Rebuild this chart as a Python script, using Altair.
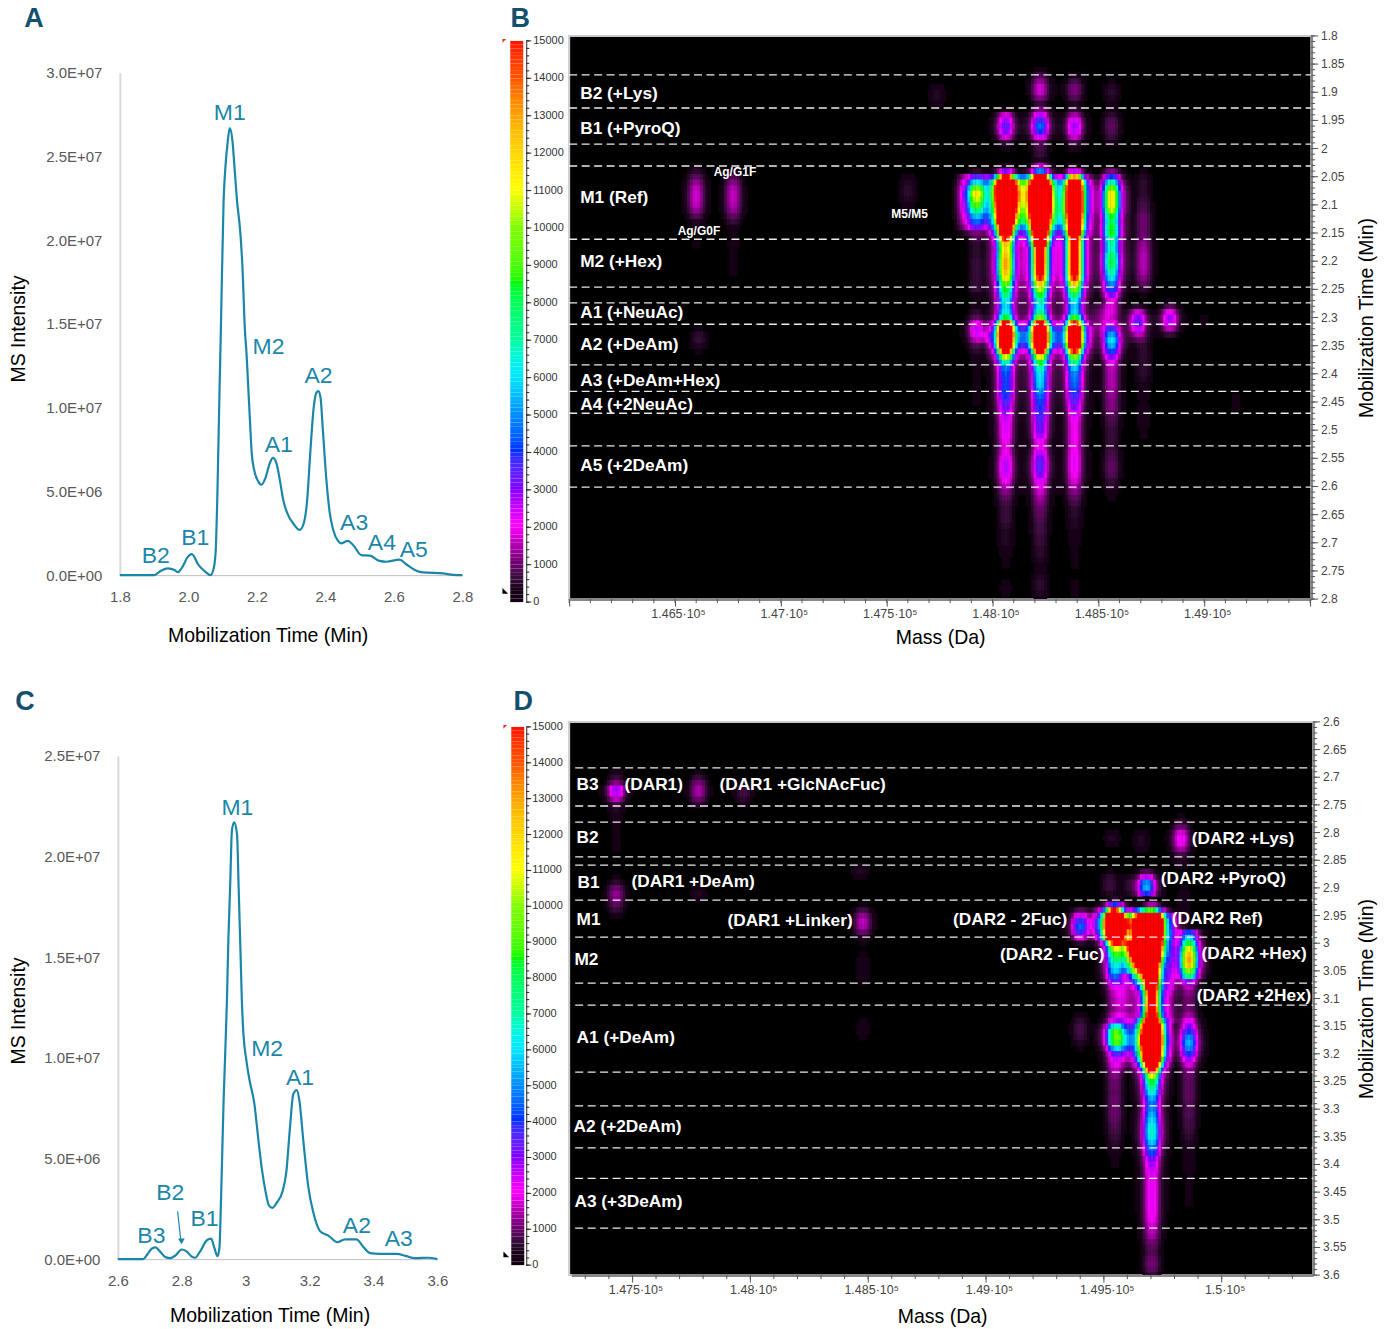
import altair as alt
import pandas as pd

TEAL = "#1a87a8"
LETTER = "#14506e"
GREY = "#595959"
FONT = "Liberation Sans"
NOFRAME = alt.ViewConfig(stroke="transparent")

# ---- Electropherograms: (time min, intensity 1e6)
a_t = [1.80,1.90,1.92,1.94,1.96,1.97,1.98,2.00,2.01,2.03,2.05,2.065,2.075,2.08,2.085,2.09,2.095,2.103,2.108,2.115,2.121,2.129,2.135,2.142,2.152,2.158,2.165,2.17,2.175,2.18,2.185,2.192,2.204,2.214,2.225,2.238,2.247,2.257,2.267,2.277,2.291,2.306,2.325,2.337,2.347,2.356,2.366,2.374,2.38,2.386,2.393,2.403,2.413,2.423,2.437,2.447,2.466,2.481,2.505,2.53,2.558,2.578,2.617,2.636,2.666,2.685,2.744,2.773,2.80]
a_i = [0,0,.26,.4,.3,.18,.4,1.13,1.25,.6,.2,0,.5,1.5,5.0,10.0,14.7,22.4,24.3,25.9,26.7,25.9,24.3,22.4,20.4,18.4,14.7,13.2,11.2,9.2,7.3,6.3,5.6,5.4,5.8,6.7,7.0,6.7,5.7,4.5,3.6,3.1,2.7,3.1,4.5,7.3,10.0,10.9,11.0,10.6,8.6,5.7,3.7,2.7,2.05,1.9,2.05,1.8,1.2,1.17,.85,.8,.93,.65,.26,.16,.1,.02,0]
c_t = [2.60,2.679,2.692,2.707,2.718,2.731,2.749,2.764,2.78,2.80,2.814,2.832,2.842,2.858,2.879,2.892,2.902,2.912,2.918,2.923,2.931,2.941,2.946,2.952,2.957,2.964,2.973,2.978,2.984,2.988,2.993,3.002,3.012,3.027,3.04,3.051,3.063,3.073,3.084,3.097,3.116,3.127,3.139,3.149,3.16,3.168,3.181,3.196,3.212,3.233,3.259,3.287,3.311,3.347,3.368,3.389,3.42,3.472,3.503,3.529,3.571,3.60]
c_i = [0,0,.23,.53,.58,.4,.1,.05,.18,.48,.4,.12,.07,.4,.94,1.02,.56,.15,.56,3.0,7.9,12.6,15.9,18.8,21.3,21.7,21.1,18.5,15.2,12.9,11.2,9.9,8.9,7.75,5.9,4.45,3.3,2.66,2.55,2.8,3.4,4.3,6.6,8.2,8.4,7.9,5.8,3.6,2.3,1.39,1.17,.84,.98,.98,.61,.3,.26,.26,.15,.05,.07,0]

a_lab = ["M1","M2","A2","A1","A3","A4","A5","B2","B1"]
a_lab_t = [2.121,2.234,2.38,2.264,2.484,2.565,2.658,1.905,2.02]
a_lab_i = [27.6,13.6,11.9,7.76,3.1,1.9,1.5,1.13,2.2]
c_lab = ["M1","M2","A1","A2","A3","B1","B2","B3"]
c_lab_t = [2.974,3.067,3.17,3.348,3.479,2.871,2.764,2.705]
c_lab_i = [22.4,10.45,9.0,1.66,.98,1.97,3.3,1.17]

# ---- Heat map ridges: (mass Da, first time row, intensity/100 along 0.01-min rows)
profile = [1,.93,.72,.42,.22,.12,.07,.04,.015]   # relative intensity across a ridge, per cell

ridges_b = [
 (148222,1.86,[3,8,13,17,17,12,6,12,26,38,46,40,24,9,7,6,4,16,50,180,300,320,320,320,320,320,320,300,280,260,220,200,175,175,175,170,165,150,125,105,85,72,65,72,100,180,260,300,300,260,180,115,85,70,62,60,58,52,46,42,40,38,36,33,32,28,22,22,26,32,35,34,30,24,20,17,14,12,10,9,8,7,7,6,6,5,5,4,3,3,4,5,5,4,3]),
 (148197,2.05,[30,70,95,100,100,95,85,75,60,45,30,15,5]),
 (148247,2.05,[30,70,95,100,100,95,85,75,60,45,30,15,5]),
 (148061,1.93,[3,18,28,34,30,18,6,2,0,0,4,30,120,250,300,300,300,300,300,280,260,230,190,150,125,120,125,130,130,125,115,95,85,75,65,60,65,85,170,250,300,280,250,170,110,70,48,44,42,42,42,40,36,32,28,25,23,23,22,20,19,20,24,26,26,24,20,16,12,9,7,6,6,6,5,4,4,4,3,3,2,2,1,1,2,3,2,1]),
 (148036,2.05,[30,70,90,90,85,75,65,55,42,28,12,3]),
 (148086,2.05,[30,70,90,90,85,75,65,55,42,28,12,3]),
 (148387,1.87,[3,7,11,11,8,4,6,14,24,28,26,17,7,3,1,0,4,25,130,230,260,260,260,260,260,250,240,225,200,175,165,165,165,165,165,165,150,125,100,80,65,58,60,90,150,230,250,250,220,150,100,75,58,50,48,46,42,38,34,30,25,22,20,20,20,20,20,21,22,22,22,20,18,15,12,9,7,5,5,4,4,3,3,3,2,2,2,2,1,1,2,2,2,1]),
 (148362,2.06,[15,25,30,30,30,30,25,20,15,8]),
 (148412,2.06,[15,25,30,30,30,30,25,20,15,8]),
 (148562,1.88,[2,4,5,4,3,3,5,8,9,8,6,3,1,0,0,0,12,40,70,95,115,115,115,105,85,80,85,85,75,70,70,78,82,78,70,62,50,42,30,20,17,17,15,20,36,52,62,55,42,30,20,16,15,15,15,14,13,12,12,10,8,7,6,6,6,6,7,8,9,9,8,6,5,3,2,1,1]),
 (147925,2.03,[1,5,30,55,90,110,100,85,70,50,40,30,10,8,5,5,5,6,6,6,6,6,6,3,2,3,5,9,20,25,22,15,8,5,3,3,2,2,2,2,2,2,2,1,1,1,1,1]),
 (147880,2.05,[10,14,16,16,16,16,16,14,12,8,3]),
 (147981,2.05,[12,16,16,16,16,16,16,14,12,6,2]),
 (148142,2.05,[20,35,42,50,50,42,38,32,28,8]),
 (148142,2.32,[8,14,14,8]),
 (148302,2.06,[10,12,14,18,22,24,22,20,8]),
 (148302,2.32,[8,14,14,8]),
 (147981,2.33,[6,6]),
 (148712,2.04,[2,4,5,5,5,6,7,8,10,10,10,10,11,13,14,15,15,15,14,12,9,5,2]),
 (148712,2.33,[3,4,4,5,5,5,5,5,4,3,3,3,2,3,3,3,3,2,2,1]),
 (148684,2.27,[1,5,18,30,34,26,14,6,2]),
 (148840,2.27,[2,8,20,28,26,16,6]),
 (148509,2.28,[5,8,10,10,8,4]),
 (147736,1.88,[1,3,4,4,3,1]),
 (147604,2.04,[1,3,4,5,5,4,3,2]),
 (146599,2.03,[2,5,9,13,16,17,17,16,13,8,4,2,1,1,2]),
 (146769,2.04,[3,8,12,15,16,16,15,13,9,6,3,2,2,3,2,2]),
 (146613,2.32,[2,5,6,4,2]),
 (146778,2.20,[2,2,2]),
 (149151,2.43,[1,2,2,2,1]),
 (148995,2.29,[1,2,2,1]),
]

ridges_d = [
 (149699,2.93,[15,60,250,300,300,300,300,300,300,300,290,270,250,230,210,190,175,170,170,180,200,240,280,300,320,320,300,280,260,220,170,110,85,75,65,55,48,50,55,60,65,68,65,58,48,42,32,28,25,23,22,22,22,22,22,22,21,20,18,16,14,11,9,8,10,11,9,6]),
 (149674,2.94,[30,80,130,130,130,130,130,130,120,110,90,70,50,30,15,5,0,0,0,0,30,60,70,80,80,70,60,40,15]),
 (149725,2.94,[20,60,100,100,100,100,90,70,45,20,6,0,0,0,0,0,0,0,0,0,30,60,70,80,80,70,60,40,15]),
 (149648,2.94,[20,80,130,150,150,150,140,130,110,85,60,40,25,12,5]),
 (149623,3.00,[70,70,60,50,40,30,18,8]),
 (149606,3.00,[50,45,40,30,20,15]),
 (149593,3.07,[10,12,14,14,14,12,14,18,24,32,40,40,30,18,10,6,3]),
 (149551,2.92,[5,40,140,220,300,300,300,260,130,100,80,70,60,55,45,30,18,14,12,12,10,14,22,60,85,85,80,50,30,22,18,15,12,10,10,9,10,10,10,10,9,8,7,6,5,4,3,2,2,1]),
 (149521,2.94,[20,60,80,80,60,40,10]),
 (149581,2.95,[60,100,100,70,60,20]),
 (149466,2.94,[3,8,10,10,8,4]),
 (149403,2.93,[1,8,24,38,44,38,20,5]),
 (149784,2.95,[14,16,18,20,18,12,14,14,14,14,14,14,14,14,10,8,8,8,8,8]),
 (149856,2.98,[40,60,85,110,125,130,125,100,75,30,15,12,10,10,10,14,22,30,40,50,55,50,40,28,18,12,10,9,9,9,9,8,8,8,7,7,6,5,4,3,3,3,3,3,2,2,2,2,2,2,1]),
 (149843,2.90,[2,3,3,3,3,3,3,3]),
 (149826,2.77,[2,5,10,18,22,20,14,7,4,3]),
 (149678,2.86,[1,8,26,50,55,40,2]),
 (149521,2.87,[2,5,6,6,4]),
 (149606,2.88,[2,3,3,2]),
 (149530,2.79,[1,3,4,3,1]),
 (149657,2.79,[1,3,4,4,3,1]),
 (147432,2.69,[3,6,12,28,26,16,6,4,3,3,2,2,2,2,2,1,1,0,0,2,5,10,13,12,9,6,3,1]),
 (147775,2.69,[2,6,11,14,14,10,5,1]),
 (147966,2.71,[2,6,7,5,2]),
 (148475,2.93,[2,7,13,16,15,10,4,2,1,2,3,3,3,3,2,1]),
 (148475,3.13,[1,2,3,3,2]),
 (148470,2.85,[1,3,4,3,1]),
 (147775,2.89,[1,3,4,3,1]),
 (149403,3.12,[1,3,5,7,7,6,4,2,1]),
]

# ---- Annotations
b_cuts = [1.869,1.928,1.992,2.031,2.161,2.246,2.274,2.312,2.384,2.431,2.470,2.528,2.601]
b_text = ["B2 (+Lys)","B1 (+PyroQ)","M1 (Ref)","M2 (+Hex)","A1 (+NeuAc)","A2 (+DeAm)","A3 (+DeAm+Hex)","A4 (+2NeuAc)","A5 (+2DeAm)"]
b_text_t = [1.903,1.965,2.088,2.201,2.292,2.349,2.413,2.455,2.564]
b_small = ["Ag/G1F","Ag/G0F","M5/M5"]
b_small_m = [146783,146613,147608]
b_small_t = [2.042,2.146,2.116]
d_cuts = [2.683,2.752,2.781,2.844,2.859,2.922,2.989,3.072,3.112,3.233,3.294,3.370,3.425,3.515]
d_text = ["B3","(DAR1)","(DAR1 +GlcNAcFuc)","B2","(DAR2 +Lys)","B1","(DAR1 +DeAm)","(DAR2 +PyroQ)","M1","(DAR1 +Linker)","(DAR2 - 2Fuc)","(DAR2 Ref)","M2","(DAR2 - Fuc)","(DAR2 +Hex)","(DAR2 +2Hex)","A1 (+DeAm)","A2 (+2DeAm)","A3 (+3DeAm)"]
d_text_m = [147263,147466,147869,147263,149873,147267,147496,149742,147263,147903,148860,149788,147254,149059,149915,149894,147263,147250,147254]
d_text_t = [2.714,2.714,2.714,2.810,2.812,2.891,2.889,2.884,2.958,2.960,2.958,2.956,3.030,3.021,3.020,3.095,3.171,3.332,3.468]

cb_ticks = list(range(0,15001,1000))
cb_minor = list(range(0,15001,200))
cb_domain = [0,300,1000,2000,3000,4000,5000,6000,7000,8500,10000,11000,12500,13000,14000,15000]
cb_range = ["#000000","#180018","#700070","#ff00ff","#8000ff","#0030ff","#0090ff","#00e8ff","#00ff98","#00ff00","#80ff00","#ffff00","#ffc000","#ffa000","#ff5000","#ff0000"]
COLOR = alt.Scale(domain=cb_domain, range=cb_range, clamp=True)


def cells(ridges, step, tmin, tmax):
    grid = {}
    for mass, t0, amps in ridges:
        col = round(mass/step)
        row0 = round(t0*100)
        for k, a in enumerate(amps):
            for o in range(-8, 9):
                key = (col+o, row0+k)
                grid[key] = grid.get(key, 0) + a*100*profile[abs(o)]
    out = []
    for (c, r), v in sorted(grid.items()):
        t = r/100
        if v >= 150 and tmin <= t <= tmax:
            out.append({"m0": (c-.5)*step, "m1": (c+.62)*step, "t0": t-.005, "t1": t+.006, "v": v})
    return pd.DataFrame(out)


def chrom(ts, vs, labels, lt, li, xdom, xr, ydom, yr, w, h, xfmt, yvals, xvals, ytx, yty, xtx, xpad, letter, lx, ly, extra=None):
    xs = alt.Scale(domain=xdom, range=xr, nice=False, zero=False)
    ys = alt.Scale(domain=ydom, range=yr, nice=False)
    yexpr = ("datum.value==0?'0.0E+00':datum.value<1e7?format(datum.value/1e6,'.1f')+'E+06':"
             "format(datum.value/1e7,'.1f')+'E+07'")
    df = pd.DataFrame({"t": ts, "i": [v*1e6 for v in vs]})
    line = alt.Chart(df).mark_line(color=TEAL, strokeWidth=2.2, interpolate="monotone").encode(
        x=alt.X("t:Q", scale=xs, title="Mobilization Time (Min)", axis=alt.Axis(
            values=xvals, format=xfmt, offset=-(h-yr[0]), grid=False, ticks=False, domainColor="#bfbfbf", domainWidth=1,
            labelColor=GREY, labelFontSize=15, labelPadding=14, labelFont=FONT, labelFlush=False,
            titleColor="#000", titleFontSize=19.5, titleFontWeight="normal", titleFont=FONT, titlePadding=xpad, titleX=xtx)),
        y=alt.Y("i:Q", scale=ys, title="MS Intensity", axis=alt.Axis(
            values=yvals, labelExpr=yexpr, offset=-xr[0], grid=False, ticks=False, domainColor="#d9d9d9", domainWidth=2,
            labelColor=GREY, labelFontSize=15, labelPadding=18, labelFont=FONT, labelFlush=False,
            titleColor="#000", titleFontSize=19.5, titleFontWeight="normal", titleFont=FONT, titleX=ytx, titleY=yty, titleBaseline="middle")))
    tx = pd.DataFrame({"l": labels, "t": lt, "i": [v*1e6 for v in li]})
    text = alt.Chart(tx).mark_text(color=TEAL, fontSize=23, font=FONT, align="center", baseline="middle").encode(
        x=alt.X("t:Q", scale=xs), y=alt.Y("i:Q", scale=ys), text="l:N")
    let = alt.Chart(pd.DataFrame({"l": [letter]})).mark_text(
        color=LETTER, fontSize=27, fontWeight="bold", font=FONT, baseline="middle").encode(
        text="l:N", x=alt.value(lx), y=alt.value(ly))
    parts = [line, text, let]
    if extra:
        parts += extra(xs, ys)
    return alt.layer(*parts).properties(width=w, height=h, view=NOFRAME)


def colorbar(w, h, rng, letter, lx, ly, x0, axoff, bar, lab_x):
    ys = alt.Scale(domain=[0, 15000], range=rng, nice=False)
    df = pd.DataFrame({"v": list(range(0, 15000, 100))})
    df["v2"] = df.v + 100
    base = alt.Chart(df).mark_rect().encode(
        x=alt.value(x0), x2=alt.value(x0+bar),
        y=alt.Y("v:Q", scale=ys, title=None, axis=alt.Axis(
            orient="right", values=cb_ticks, grid=False, offset=axoff, ticks=False, labels=False, domainColor="#222")),
        y2="v2:Q",
        color=alt.Color("v:Q", scale=COLOR, legend=None))
    minor = alt.Chart(pd.DataFrame({"v": cb_minor})).mark_rule(color="#222", strokeWidth=1).encode(
        y=alt.Y("v:Q", scale=ys), x=alt.value(w+axoff), x2=alt.value(w+axoff+3))
    major = alt.Chart(pd.DataFrame({"v": cb_ticks})).mark_rule(color="#222", strokeWidth=1).encode(
        y=alt.Y("v:Q", scale=ys), x=alt.value(w+axoff), x2=alt.value(w+axoff+5))
    nums = alt.Chart(pd.DataFrame({"v": cb_ticks, "s": [str(v) for v in cb_ticks]})).mark_text(
        color="#333", fontSize=11, font=FONT, align="left", baseline="middle").encode(
        y=alt.Y("v:Q", scale=ys), x=alt.value(lab_x), text="s:N")
    red = alt.Chart(pd.DataFrame({"v": [15000]})).mark_point(
        shape="M-1,-1L1,-1L-1,1Z", filled=True, color="#e0302a", size=14, opacity=1).encode(
        y=alt.Y("v:Q", scale=ys), x=alt.value(x0-6))
    blk = alt.Chart(pd.DataFrame({"v": [300]})).mark_point(
        shape="M-1,-1L1,1L-1,1Z", filled=True, color="#000", size=32, opacity=1).encode(
        y=alt.Y("v:Q", scale=ys), x=alt.value(x0-5))
    let = alt.Chart(pd.DataFrame({"l": [letter]})).mark_text(
        color=LETTER, fontSize=27, fontWeight="bold", font=FONT, baseline="middle").encode(
        text="l:N", x=alt.value(lx), y=alt.value(ly))
    return alt.layer(base, minor, major, nums, red, blk, let).properties(width=w, height=h, view=NOFRAME)


def heat(ridges, step, mdom, xr, tdom, w, h, mvals, mminor, tvals, tminor, cuts, cutx0, label_df, tpad, tit_x, smalls=None):
    xs = alt.Scale(domain=mdom, range=xr, nice=False, zero=False)
    ys = alt.Scale(domain=tdom, reverse=True, nice=False, zero=False)
    lim = f"datum.value=={mdom[0]}||datum.value=={149500}&&{mdom[1]}<150000"
    xaxis = alt.Axis(values=mvals, orient="bottom", grid=False, tickSize=7, tickColor="#555", domainColor="#888", domainWidth=3,
                     labelExpr=f"({lim})?'':format(datum.value/1e5,'.4~f')+'·10⁵'", labelOffset=3,
                     labelColor="#444", labelFontSize=12.5, labelPadding=1, labelFont=FONT, labelFlush=False, labelOverlap=False,
                     title="Mass (Da)", titleColor="#000", titleFontSize=19.5, titleFontWeight="normal", titleFont=FONT, titlePadding=tpad)
    yaxis = alt.Axis(values=tvals, orient="right", grid=False, ticks=False, labels=False, domainColor="#888", domainWidth=3,
                     title="Mobilization Time (Min)", titleAngle=270, titleColor="#000", titleFontSize=19.5,
                     titleFontWeight="normal", titleFont=FONT, titleX=tit_x, titleBaseline="middle")
    rect = alt.Chart(cells(ridges, step, tdom[0], tdom[1])).mark_rect(clip=True).encode(
        x=alt.X("m0:Q", scale=xs, axis=xaxis), x2="m1:Q",
        y=alt.Y("t0:Q", scale=ys, axis=yaxis), y2="t1:Q",
        color=alt.Color("v:Q", scale=COLOR, legend=None))
    dash = alt.Chart(pd.DataFrame({"t": cuts})).mark_rule(color="#ffffff", strokeWidth=1.3, strokeDash=[8, 4.5], opacity=.92).encode(
        y=alt.Y("t:Q", scale=ys), x=alt.value(cutx0), x2=alt.value(w))
    mx = alt.Chart(pd.DataFrame({"m": mminor})).mark_rule(color="#555").encode(
        x=alt.X("m:Q", scale=xs), y=alt.value(h), y2=alt.value(h+4))
    my = alt.Chart(pd.DataFrame({"t": tminor})).mark_rule(color="#555").encode(
        y=alt.Y("t:Q", scale=ys), x=alt.value(w), x2=alt.value(w+4))
    mj = alt.Chart(pd.DataFrame({"t": tvals})).mark_rule(color="#555").encode(
        y=alt.Y("t:Q", scale=ys), x=alt.value(w), x2=alt.value(w+7))
    tnums = alt.Chart(pd.DataFrame({"t": tvals, "s": [f"{v:g}" for v in tvals]})).mark_text(
        color="#444", fontSize=12, font=FONT, align="left", baseline="middle").encode(
        y=alt.Y("t:Q", scale=ys), x=alt.value(w+10), text="s:N")
    labs = alt.Chart(label_df).mark_text(color="#fff", fontSize=17.3, fontWeight="bold", font=FONT, align="left", baseline="middle").encode(
        x=alt.X("m:Q", scale=xs), y=alt.Y("t:Q", scale=ys), text="l:N")
    parts = [rect, dash, mx, my, mj, tnums, labs]
    if smalls is not None:
        parts.append(alt.Chart(smalls).mark_text(color="#fff", fontSize=12, fontWeight="bold", font=FONT, align="center", baseline="middle").encode(
            x=alt.X("m:Q", scale=xs), y=alt.Y("t:Q", scale=ys), text="l:N"))
    return alt.layer(*parts).properties(
        width=w, height=h, view=alt.ViewConfig(fill="#000000", stroke="#c8c8c8", strokeWidth=2))


def arrow(xs, ys):
    shaft = alt.Chart(pd.DataFrame({"t": [2.787], "t2": [2.797], "i": [2.38e6], "i2": [.95e6]})).mark_rule(color=TEAL, strokeWidth=1.2).encode(
        x=alt.X("t:Q", scale=xs), x2="t2:Q", y=alt.Y("i:Q", scale=ys), y2="i2:Q")
    head = alt.Chart(pd.DataFrame({"t": [2.799], "i": [.88e6]})).mark_point(
        shape="triangle-down", filled=True, color=TEAL, size=45, opacity=1).encode(
        x=alt.X("t:Q", scale=xs), y=alt.Y("i:Q", scale=ys))
    return [shaft, head]


panel_a = chrom(a_t, a_i, a_lab, a_lab_t, a_lab_i, [1.8, 2.8], [2, 345], [0, 3e7], [540, 37], 349, 564, ".1f",
                [0, 5e6, 1e7, 1.5e7, 2e7, 2.5e7, 3e7], [1.8, 2.0, 2.2, 2.4, 2.6, 2.8], -101, 293, 150, 22, "A", -84, -16.5)
panel_c = chrom(c_t, c_i, c_lab, c_lab_t, c_lab_i, [2.6, 3.6], [0, 320], [0, 2.5e7], [538, 34], 349, 554, "~g",
                [0, 5e6, 1e7, 1.5e7, 2e7, 2.5e7], [2.6, 2.8, 3.0, 3.2, 3.4, 3.6], -99, 289, 152, 18, "C", -93, -19.5, extra=arrow)

b_minor_m = [146000+100*i for i in range(36)]
b_minor_t = [(180+i)/100 for i in range(101)]
b_labels = pd.DataFrame({"l": b_text, "m": [146052]*len(b_text), "t": b_text_t})
b_sm = pd.DataFrame({"l": b_small, "m": b_small_m, "t": b_small_t})
panel_b = heat(ridges_b, 12.5, [146000, 149505], [0, 743], [1.8, 2.8], 743, 564,
               [146000+500*i for i in range(8)], b_minor_m,
               [(180+5*i)/100 for i in range(21)], b_minor_t, b_cuts, 0, b_labels, 9, 55, b_sm)

d_minor_m = [147300+100*i for i in range(31)]
d_minor_t = [(260+i)/100 for i in range(101)]
d_labels = pd.DataFrame({"l": d_text, "m": d_text_m, "t": d_text_t})
panel_d = heat(ridges_d, 11.25, [147240, 150388], [2, 745], [2.6, 3.6], 745, 554,
               [147500+500*i for i in range(6)], d_minor_m,
               [(260+5*i)/100 for i in range(21)], d_minor_t, d_cuts, 6, d_labels, 12, 53)

cb_b = colorbar(15, 564, [567, 5], "B", 10, -16.5, 0, 1, 13, 23)
cb_d = colorbar(15, 554, [544, 5], "D", 13, -19.5, 1, 1, 13, 22)

chart = alt.concat(panel_a, cb_b, panel_b, panel_c, cb_d, panel_d, columns=3,
                   spacing=alt.RowColnumber(row=123, column=44), bounds="flush").properties(
    padding={"left": 0, "top": -4, "right": 5, "bottom": 5}).configure(font=FONT)
chart.save("out.html", embed_options={"renderer": "svg", "actions": False})
